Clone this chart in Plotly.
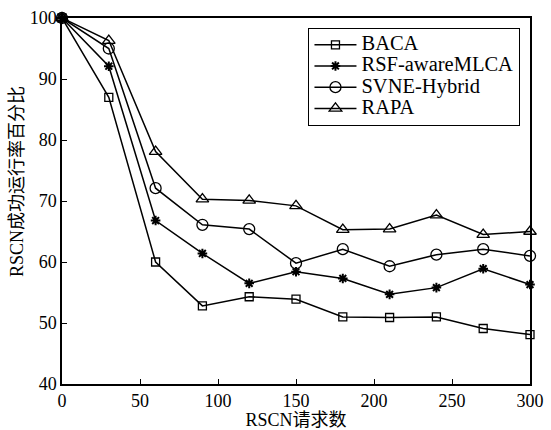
import plotly.graph_objects as go

x_vals = [0, 30, 60, 90, 120, 150, 180, 210, 240, 270, 300]
baca = [100, 87.0, 60.0, 52.8, 54.3, 53.9, 51.0, 50.9, 51.0, 49.1, 48.1]
rsf = [100, 92.1, 66.8, 61.4, 56.5, 58.4, 57.3, 54.7, 55.8, 58.9, 56.3]
svne = [100, 95.0, 72.1, 66.1, 65.4, 59.8, 62.1, 59.3, 61.2, 62.1, 61.0]
rapa = [100, 96.3, 78.1, 70.3, 70.1, 69.2, 65.3, 65.4, 67.7, 64.5, 65.0]
series_names = ["BACA", "RSF-awareMLCA", "SVNE-Hybrid", "RAPA"]
x_ticks = [0, 50, 100, 150, 200, 250, 300]
y_ticks = [40, 50, 60, 70, 80, 90, 100]
x_title = "RSCN请求数"
y_title = "RSCN成功运行率百分比"

FONT = "Liberation Serif, Times New Roman, Noto Sans CJK SC, serif"

styles = [
    dict(symbol="square-open", size=8, line=dict(color="black", width=1.3), color="black"),
    dict(symbol="asterisk-open", size=8, line=dict(color="black", width=2), color="black"),
    dict(symbol="circle-open", size=11, line=dict(color="black", width=1.3), color="black"),
    dict(symbol="triangle-up-open", size=11, line=dict(color="black", width=1.3), color="black"),
]

fig = go.Figure()
for name, ys, st in zip(series_names, [baca, rsf, svne, rapa], styles):
    fig.add_trace(go.Scatter(
        x=x_vals, y=ys, name='<span style="font-size:20.5px">' + name + '</span>',
        mode="lines+markers",
        line=dict(color="black", width=1.5),
        marker=st, cliponaxis=False,
    ))

axis_common = dict(
    showline=True, linecolor="black", linewidth=1.5, mirror=True,
    ticks="inside", ticklen=5, tickcolor="black", tickwidth=1,
    showgrid=False, zeroline=False, automargin=False,
    tickfont=dict(family=FONT, size=18, color="black"),
)

fig.update_layout(
    width=551, height=430,
    margin=dict(l=62, r=21, t=18, b=46),
    paper_bgcolor="white", plot_bgcolor="white",
    font=dict(family=FONT, size=18, color="black"),
    showlegend=True,
    legend=dict(
        x=0.526, y=0.973, xanchor="left", yanchor="top",
        bgcolor="white", bordercolor="black", borderwidth=1.3,
        font=dict(family=FONT, size=14, color="black"),
        itemwidth=42, tracegroupgap=0,
    ),
    xaxis=dict(range=[0, 300], tickvals=x_ticks,
               title=dict(text=x_title, font=dict(family=FONT, size=18), standoff=0),
               **axis_common),
    yaxis=dict(range=[40, 100], tickvals=y_ticks, **axis_common),
    annotations=[dict(
        text=y_title, textangle=-90, xref="paper", yref="paper",
        x=-0.096, y=0.552, xanchor="center", yanchor="middle", showarrow=False,
        font=dict(family=FONT, size=18, color="black"),
    )],
)

fig.write_html("out.html", config={"displayModeBar": False},
               post_script="document.body.style.margin='0';")
